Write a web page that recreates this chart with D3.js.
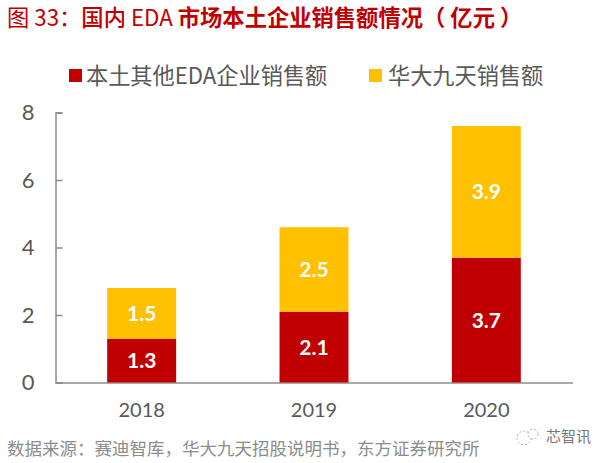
<!DOCTYPE html>
<html><head><meta charset="utf-8">
<script src="https://cdn.jsdelivr.net/npm/d3@7"></script>
<style>html,body{margin:0;padding:0;background:#fff}svg{display:block}text{font-family:"Noto Sans CJK SC","Noto Sans",sans-serif}</style>
</head><body><svg id="c" width="608" height="463"></svg>
<script>
const categories=["2018","2019","2020"];
const localValues=[1.3,2.1,3.7];
const hdValues=[1.5,2.5,3.9];
const yTicks=[0,2,4,6,8];
const seriesNames=["本土其他EDA企业销售额","华大九天销售额"];
const colors=["#C00000","#FFC000"];
const titleParts=[["图 33：",400],["国内",500],[" EDA ",400],["市场本土企业销售额情况（ 亿元 ）",700]];
const sourceText="数据来源：赛迪智库，华大九天招股说明书，东方证券研究所";
const watermark="芯智讯";

const svg=d3.select("#c");
const x=d3.scaleBand().domain(categories).range([55.5,572.5]).paddingInner(0.6).paddingOuter(0.3);
const y=d3.scaleLinear().domain([0,8]).range([382.5,112.5]);

svg.append("text").attr("x",7).attr("y",26).attr("font-size",22.3).attr("fill","#C00000").attr("xml:space","preserve").style("white-space","pre")
  .selectAll("tspan").data(titleParts).join("tspan").attr("font-weight",d=>d[1]).text(d=>d[0]);

// legend
const lg=[{x:69,tx:86,i:0},{x:369,tx:388,i:1}];
svg.selectAll(".lr").data(lg).join("rect").attr("x",d=>d.x).attr("y",69).attr("width",13).attr("height",13).attr("fill",d=>colors[d.i]);
svg.selectAll(".lt").data(lg).join("text").attr("x",d=>d.tx).attr("y",84).attr("font-size",22.2).attr("fill","#595959").text(d=>seriesNames[d.i]);

// axes
const ax=svg.append("g").attr("transform",`translate(55.5,0)`).call(d3.axisLeft(y).tickValues(yTicks).tickSize(-7).tickPadding(21));
ax.select(".domain").attr("stroke","#8c8c8c").attr("stroke-width",1.5);
ax.selectAll("line").attr("stroke","#8c8c8c").attr("stroke-width",1.5);
ax.selectAll("text").attr("font-size",22).attr("fill","#595959").style("font-family","Lato,sans-serif");
const bx=svg.append("g").attr("transform",`translate(0,382.5)`).call(d3.axisBottom(x).tickSize(0).tickPadding(20));
bx.select(".domain").attr("stroke","#8c8c8c").attr("stroke-width",1.5);
bx.selectAll("text").attr("font-size",20).attr("fill","#595959").style("font-family","Lato,sans-serif");

// bars
const stack=categories.map((c,i)=>({c,a:localValues[i],b:hdValues[i]}));
svg.selectAll(".a").data(stack).join("rect").attr("x",d=>x(d.c)).attr("width",x.bandwidth()).attr("y",d=>y(d.a)).attr("height",d=>y(0)-y(d.a)).attr("fill",colors[0]);
svg.selectAll(".b").data(stack).join("rect").attr("x",d=>x(d.c)).attr("width",x.bandwidth()).attr("y",d=>y(d.a+d.b)).attr("height",d=>y(d.a)-y(d.a+d.b)).attr("fill",colors[1]);
const lab=(sel,val,base)=>sel.attr("x",d=>x(d.c)+x.bandwidth()/2).attr("y",d=>y(base(d)+val(d)/2)).attr("dy","0.36em").attr("text-anchor","middle").attr("font-size",21).attr("font-weight",700).attr("fill","#fff").style("font-family","Lato,sans-serif").text(d=>val(d).toFixed(1));
lab(svg.selectAll(".la").data(stack).join("text"),d=>d.a,d=>0);
lab(svg.selectAll(".lb").data(stack).join("text"),d=>d.b,d=>d.a);

svg.append("text").attr("x",7).attr("y",455).attr("font-size",17.5).attr("fill","#8c8c8c").text(sourceText);
svg.append("text").attr("x",546).attr("y",442).attr("font-size",15).attr("fill","#777").text(watermark);
svg.selectAll(".wm").data([[524,438,7],[533,434,5]]).join("circle").attr("cx",d=>d[0]).attr("cy",d=>d[1]).attr("r",d=>d[2]).attr("fill","#fff").attr("stroke","#999").attr("stroke-width",0.8).attr("stroke-dasharray","2 2");
</script></body></html>
